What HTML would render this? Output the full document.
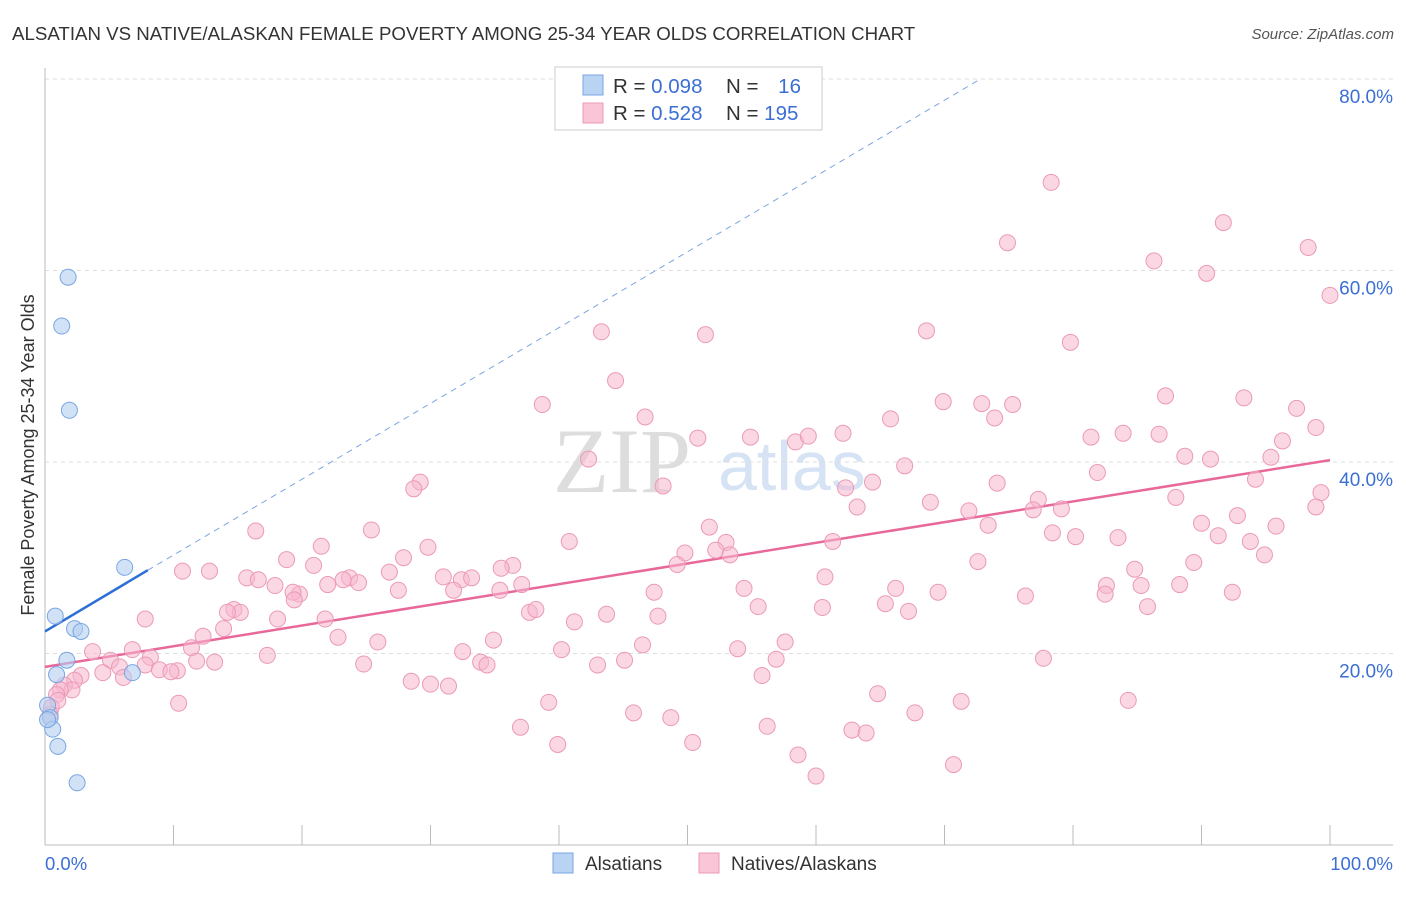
<!DOCTYPE html>
<html><head><meta charset="utf-8">
<style>
body{margin:0;background:#fff;font-family:"Liberation Sans",sans-serif;}
svg text{font-family:"Liberation Sans",sans-serif;}
</style></head>
<body>
<svg id="chart" width="1406" height="892" xmlns="http://www.w3.org/2000/svg">
<text x="12" y="40" font-size="18.7" fill="#333">ALSATIAN VS NATIVE/ALASKAN FEMALE POVERTY AMONG 25-34 YEAR OLDS CORRELATION CHART</text>
<text x="1394" y="39" font-size="15" fill="#555" font-style="italic" text-anchor="end">Source: ZipAtlas.com</text>
<g>
<text x="553" y="492" font-size="92" fill="#ddd" style="font-family:'Liberation Serif',serif">ZIP</text>
<text x="718" y="490" font-size="70" fill="#d5e3f5">atlas</text>
</g>
<g id="grid"></g>
<g id="axes"></g>
<g id="trends"></g>
<g id="points"></g>
<g>
<rect x="555" y="67" width="267" height="63" fill="#fff" stroke="#ccc"/>
<rect x="583" y="75" width="20" height="20" fill="#b9d3f3" stroke="#7aa6e0"/>
<rect x="583" y="103" width="20" height="20" fill="#fac6d7" stroke="#eb9ab6"/>
<text x="613" y="93" font-size="20.5" fill="#333">R = <tspan fill="#3b6fd4">0.098</tspan></text>
<text x="726" y="93" font-size="20.5" fill="#333">N = <tspan fill="#3b6fd4" dx="14">16</tspan></text>
<text x="613" y="120" font-size="20.5" fill="#333">R = <tspan fill="#3b6fd4">0.528</tspan></text>
<text x="726" y="120" font-size="20.5" fill="#333">N = <tspan fill="#3b6fd4">195</tspan></text>
</g>
<g>
<rect x="553" y="853" width="20" height="20" fill="#b9d3f3" stroke="#7aa6e0"/>
<text x="585" y="870" font-size="19" fill="#333">Alsatians</text>
<rect x="699" y="853" width="20" height="20" fill="#fac6d7" stroke="#eb9ab6"/>
<text x="731" y="870" font-size="19" fill="#333">Natives/Alaskans</text>
</g>
<text transform="translate(34,455) rotate(-90)" font-size="18" fill="#333" text-anchor="middle">Female Poverty Among 25-34 Year Olds</text>
</svg>
<script>
const yTicks=[20,40,60,80];
const yTickLabels=["20.0%","40.0%","60.0%","80.0%"];
const xTicks=[0,10,20,30,40,50,60,70,80,90,100];
const xEndLabels=["0.0%","100.0%"];
const blueX=[1.8,1.3,1.9,6.2,0.8,2.3,2.8,1.7,0.9,6.8,0.2,0.4,0.6,1.0,2.5,0.2];
const blueY=[59.3,54.2,45.4,29.0,23.9,22.6,22.3,19.3,17.8,18.0,14.6,13.3,12.1,10.3,6.5,13.1];
const pinkX=[78.3,74.9,91.7,98.3,86.3,90.4,100,43.3,51.4,68.6,79.8,44.4,38.7,87.2,93.3,69.9,72.9,75.3,73.9,46.7,65.8,97.4,98.9,54.9,50.8,58.4,59.4,62.1,81.4,83.9,86.7,96.3,42.3,88.7,90.7,95.4,66.9,81.9,29.2,28.7,48.1,62.3,64.4,94.2,99.3,74.1,77.3,88.0,68.9,63.2,79.1,71.9,98.9,92.8,90.0,73.4,76.9,51.7,16.4,25.4,78.4,80.2,83.5,91.3,93.8,95.8,61.3,40.8,53.0,21.5,29.8,52.2,53.3,49.8,94.9,18.8,27.9,20.9,36.4,35.5,72.6,89.4,10.7,12.8,49.2,15.7,16.6,17.9,23.7,24.4,23.2,31.0,32.4,33.2,26.8,27.5,22.0,19.8,19.3,37.1,35.4,31.8,60.7,84.8,82.6,85.3,88.3,92.4,82.5,54.4,66.2,69.5,47.4,19.4,14.7,15.2,14.2,37.7,38.2,43.7,55.5,60.5,65.4,67.2,76.3,85.8,7.8,18.1,21.8,47.7,41.2,13.9,12.3,22.8,34.9,25.9,46.5,40.2,57.6,53.9,11.4,3.7,6.8,32.5,17.3,8.2,77.7,5.1,11.8,33.9,13.2,34.4,24.8,43.0,45.1,56.9,5.8,7.8,8.9,10.3,4.5,9.8,2.8,6.1,55.8,28.5,30.0,31.4,2.3,1.5,2.1,10.4,39.2,71.3,84.3,64.8,45.8,67.7,48.7,37.0,56.2,62.8,63.9,39.9,50.4,58.6,60.0,70.7,1.2,0.9,0.5,1.0,0.4];
const pinkY=[69.2,62.9,65.0,62.4,61.0,59.7,57.4,53.6,53.3,53.7,52.5,48.5,46.0,46.9,46.7,46.3,46.1,46.0,44.6,44.7,44.5,45.6,43.6,42.6,42.5,42.1,42.7,43.0,42.6,43.0,42.9,42.2,40.3,40.6,40.3,40.5,39.6,38.9,37.9,37.2,37.5,37.3,37.9,38.2,36.8,37.8,36.1,36.3,35.8,35.3,35.1,34.9,35.3,34.4,33.6,33.4,35.0,33.2,32.8,32.9,32.6,32.2,32.1,32.3,31.7,33.3,31.7,31.7,31.6,31.2,31.1,30.8,30.3,30.5,30.3,29.8,30.0,29.2,29.2,28.9,29.6,29.5,28.6,28.6,29.3,27.9,27.7,27.1,27.9,27.4,27.7,28.0,27.7,27.9,28.5,26.6,27.2,26.2,26.4,27.2,26.6,26.6,28.0,28.8,27.1,27.1,27.2,26.4,26.2,26.8,26.8,26.4,26.4,25.6,24.6,24.3,24.3,24.3,24.6,24.1,24.9,24.8,25.2,24.4,26.0,24.9,23.6,23.6,23.6,23.9,23.3,22.6,21.8,21.7,21.4,21.2,20.9,20.4,21.2,20.5,20.6,20.2,20.4,20.2,19.8,19.6,19.5,19.3,19.2,19.1,19.1,18.8,18.9,18.8,19.3,19.4,18.6,18.8,18.3,18.2,18.0,18.1,17.7,17.5,17.7,17.1,16.8,16.6,17.2,16.7,16.2,14.8,14.9,15.0,15.1,15.8,13.8,13.8,13.3,12.3,12.4,12.0,11.7,10.5,10.7,9.4,7.2,8.4,16.2,15.7,14.4,15.1,13.6];
const blueTrend=[[0,22.3],[8,28.7]];
const blueTrendExt=[[8,28.7],[72.8,80]];
const pinkTrend=[[0,18.6],[100,40.2]];

const NS="http://www.w3.org/2000/svg";
const X0=45,X1=1330,Y0=845,PXPER=9.575;
function sx(v){return X0+v*(X1-X0)/100;}
function sy(v){return Y0-v*PXPER;}
function mk(tag,attrs,parent){const e=document.createElementNS(NS,tag);for(const k in attrs)e.setAttribute(k,attrs[k]);parent.appendChild(e);return e;}
const grid=document.getElementById('grid'),axes=document.getElementById('axes'),trends=document.getElementById('trends'),pts=document.getElementById('points');
yTicks.forEach((t,i)=>{
 const l=mk('line',{x1:45,x2:1393,y1:sy(t),y2:sy(t),stroke:'#ddd','stroke-dasharray':'4,4'},grid);
 
 
 const tx=mk('text',{x:1393,y:sy(t)+24,'font-size':19,fill:'#3b6fd4','text-anchor':'end'},axes);
 tx.textContent=yTickLabels[i];
 
 
});
const ax=mk('line',{x1:45,x2:1393,y1:845,y2:845,stroke:'#bbb'},axes);


const ay=mk('line',{x1:45,x2:45,y1:68,y2:845,stroke:'#bbb'},axes);


xTicks.forEach(t=>{
 const l=mk('line',{x1:sx(t),x2:sx(t),y1:825,y2:845,stroke:'#bbb'},axes);
 
 
});
const xl0=mk('text',{x:45,y:870,'font-size':18.5,fill:'#3b6fd4'},axes);xl0.textContent=xEndLabels[0];


const xl1=mk('text',{x:1393,y:870,'font-size':18.5,fill:'#3b6fd4','text-anchor':'end'},axes);xl1.textContent=xEndLabels[1];


function seg(p,attrs){return mk('line',Object.assign({x1:sx(p[0][0]),y1:sy(p[0][1]),x2:sx(p[1][0]),y2:sy(p[1][1])},attrs),trends);}
const tp=seg(pinkTrend,{stroke:'#e8689a','stroke-width':2.5});


const tbe=seg(blueTrendExt,{stroke:'#7aa6e0','stroke-width':1,'stroke-dasharray':'6,5'});


const tb=seg(blueTrend,{stroke:'#2d6fd6','stroke-width':2.5});


pinkX.forEach((x,i)=>{
 const c=mk('circle',{cx:sx(x),cy:sy(pinkY[i]),r:8,fill:'rgba(248,182,205,0.55)',stroke:'#eb9ab6','stroke-width':1},pts);
 
 
});
blueX.forEach((x,i)=>{
 const c=mk('circle',{cx:sx(x),cy:sy(blueY[i]),r:8,fill:'rgba(178,206,242,0.6)',stroke:'#7aa6e0','stroke-width':1},pts);
 
 
});
</script>
</body></html>
